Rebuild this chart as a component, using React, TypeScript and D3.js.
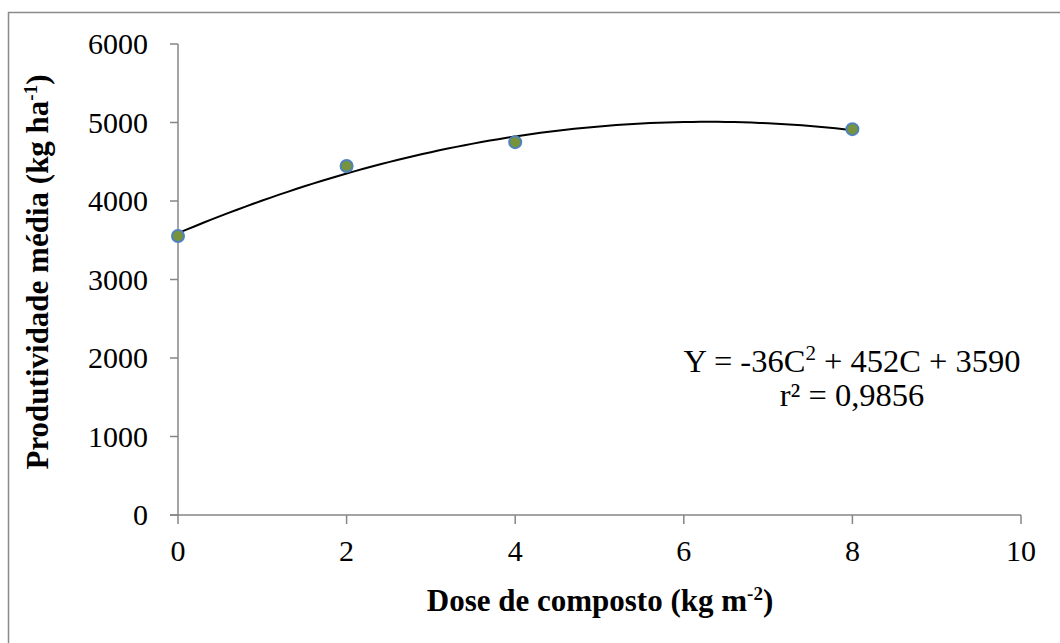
import * as d3 from "d3";
import { useEffect, useRef } from "react";

// data
const doses = [0, 2, 4, 8];
const yields = [3555, 4445, 4750, 4915];
const yTicks = [0, 1000, 2000, 3000, 4000, 5000, 6000];
const xTicks = [0, 2, 4, 6, 8, 10];
// trendline coefficients as printed on the chart
const coefA = -36;
const coefB = 452;
const coefC = 3590;

const W = 1060;
const H = 643;

const App = () => {
  const svgRef = useRef<SVGSVGElement>(null);

  useEffect(() => {
    const margin = { top: 44, left: 178, right: 39, bottom: 128 };
    const svg = d3.select(svgRef.current).attr("width", W).attr("height", H);
    svg.selectAll("*").remove();

    const font = "'Liberation Serif', 'Times New Roman', serif";
    const axisColor = "#868686";

    // outer frame (runs off the right and bottom edge)
    svg
      .append("rect")
      .attr("x", 8.5)
      .attr("y", 12.5)
      .attr("width", W)
      .attr("height", H)
      .attr("fill", "none")
      .attr("stroke", "#8a8a8a")
      .attr("stroke-width", 1.5);

    const x = d3
      .scaleLinear()
      .domain([0, 10])
      .range([margin.left, W - margin.right]);
    const y = d3
      .scaleLinear()
      .domain([0, 6000])
      .range([H - margin.bottom, margin.top]);

    //////////
    // AXIS //
    //////////
    const g = svg.append("g");
    g.append("line")
      .attr("x1", x(0))
      .attr("x2", x(0))
      .attr("y1", y(0))
      .attr("y2", y(6000))
      .attr("stroke", axisColor)
      .attr("stroke-width", 1.5);
    g.append("line")
      .attr("x1", x(0) - 8)
      .attr("x2", x(10))
      .attr("y1", y(0))
      .attr("y2", y(0))
      .attr("stroke", axisColor)
      .attr("stroke-width", 1.5);

    g.selectAll(".ytick")
      .data(yTicks)
      .join("line")
      .attr("x1", x(0) - 8)
      .attr("x2", x(0))
      .attr("y1", (d) => y(d))
      .attr("y2", (d) => y(d))
      .attr("stroke", axisColor)
      .attr("stroke-width", 1.5);
    g.selectAll(".xtick")
      .data(xTicks)
      .join("line")
      .attr("x1", (d) => x(d))
      .attr("x2", (d) => x(d))
      .attr("y1", y(0))
      .attr("y2", y(0) + 9)
      .attr("stroke", axisColor)
      .attr("stroke-width", 1.5);

    g.selectAll(".ylabel")
      .data(yTicks)
      .join("text")
      .attr("x", 148)
      .attr("y", (d) => y(d) + 10)
      .attr("text-anchor", "end")
      .attr("font-family", font)
      .attr("font-size", 30)
      .text((d) => d);
    g.selectAll(".xlabel")
      .data(xTicks)
      .join("text")
      .attr("x", (d) => x(d))
      .attr("y", 561)
      .attr("text-anchor", "middle")
      .attr("font-family", font)
      .attr("font-size", 30)
      .text((d) => d);

    // axis titles
    const xt = svg
      .append("text")
      .attr("x", 600)
      .attr("y", 611)
      .attr("text-anchor", "middle")
      .attr("font-family", font)
      .attr("font-size", 31)
      .attr("font-weight", "bold");
    xt.append("tspan").text("Dose de composto (kg m");
    xt.append("tspan").attr("dy", -11).attr("font-size", 19).text("-2");
    xt.append("tspan").attr("dy", 11).text(")");

    const yt = svg
      .append("text")
      .attr("transform", "translate(48,272) rotate(-90)")
      .attr("text-anchor", "middle")
      .attr("font-family", font)
      .attr("font-size", 31)
      .attr("font-weight", "bold");
    yt.append("tspan").text("Produtividade média (kg ha");
    yt.append("tspan").attr("dy", -11).attr("font-size", 19).text("-1");
    yt.append("tspan").attr("dy", 11).text(")");

    // trendline
    const curveX = d3.range(0, 8.001, 0.1);
    const line = d3
      .line<number>()
      .x((d) => x(d))
      .y((d) => y(coefA * d * d + coefB * d + coefC))
      .curve(d3.curveMonotoneX);
    svg
      .append("path")
      .datum(curveX)
      .attr("d", line)
      .attr("fill", "none")
      .attr("stroke", "#000")
      .attr("stroke-width", 2);

    // points
    svg
      .selectAll(".pt")
      .data(doses)
      .join("circle")
      .attr("cx", (d) => x(d))
      .attr("cy", (d, i) => y(yields[i]))
      .attr("r", 6)
      .attr("fill", "#77933C")
      .attr("stroke", "#4F81BD")
      .attr("stroke-width", 2);

    // equation
    const eq = svg
      .append("text")
      .attr("x", 852)
      .attr("y", 372)
      .attr("text-anchor", "middle")
      .attr("font-family", font)
      .attr("font-size", 32.5);
    eq.append("tspan").text("Y = -36C");
    eq.append("tspan").attr("dy", -12).attr("font-size", 21).text("2");
    eq.append("tspan").attr("dy", 12).text(" + 452C + 3590");
    svg
      .append("text")
      .attr("x", 852)
      .attr("y", 406)
      .attr("text-anchor", "middle")
      .attr("font-family", font)
      .attr("font-size", 32.5)
      .text("r² = 0,9856");
  }, []);

  return (
    <div style={{ position: "fixed", left: 0, top: 0, width: W, height: H, overflow: "hidden", background: "#fff" }}>
      <svg ref={svgRef} style={{ display: "block" }}></svg>
    </div>
  );
};

export default App;
